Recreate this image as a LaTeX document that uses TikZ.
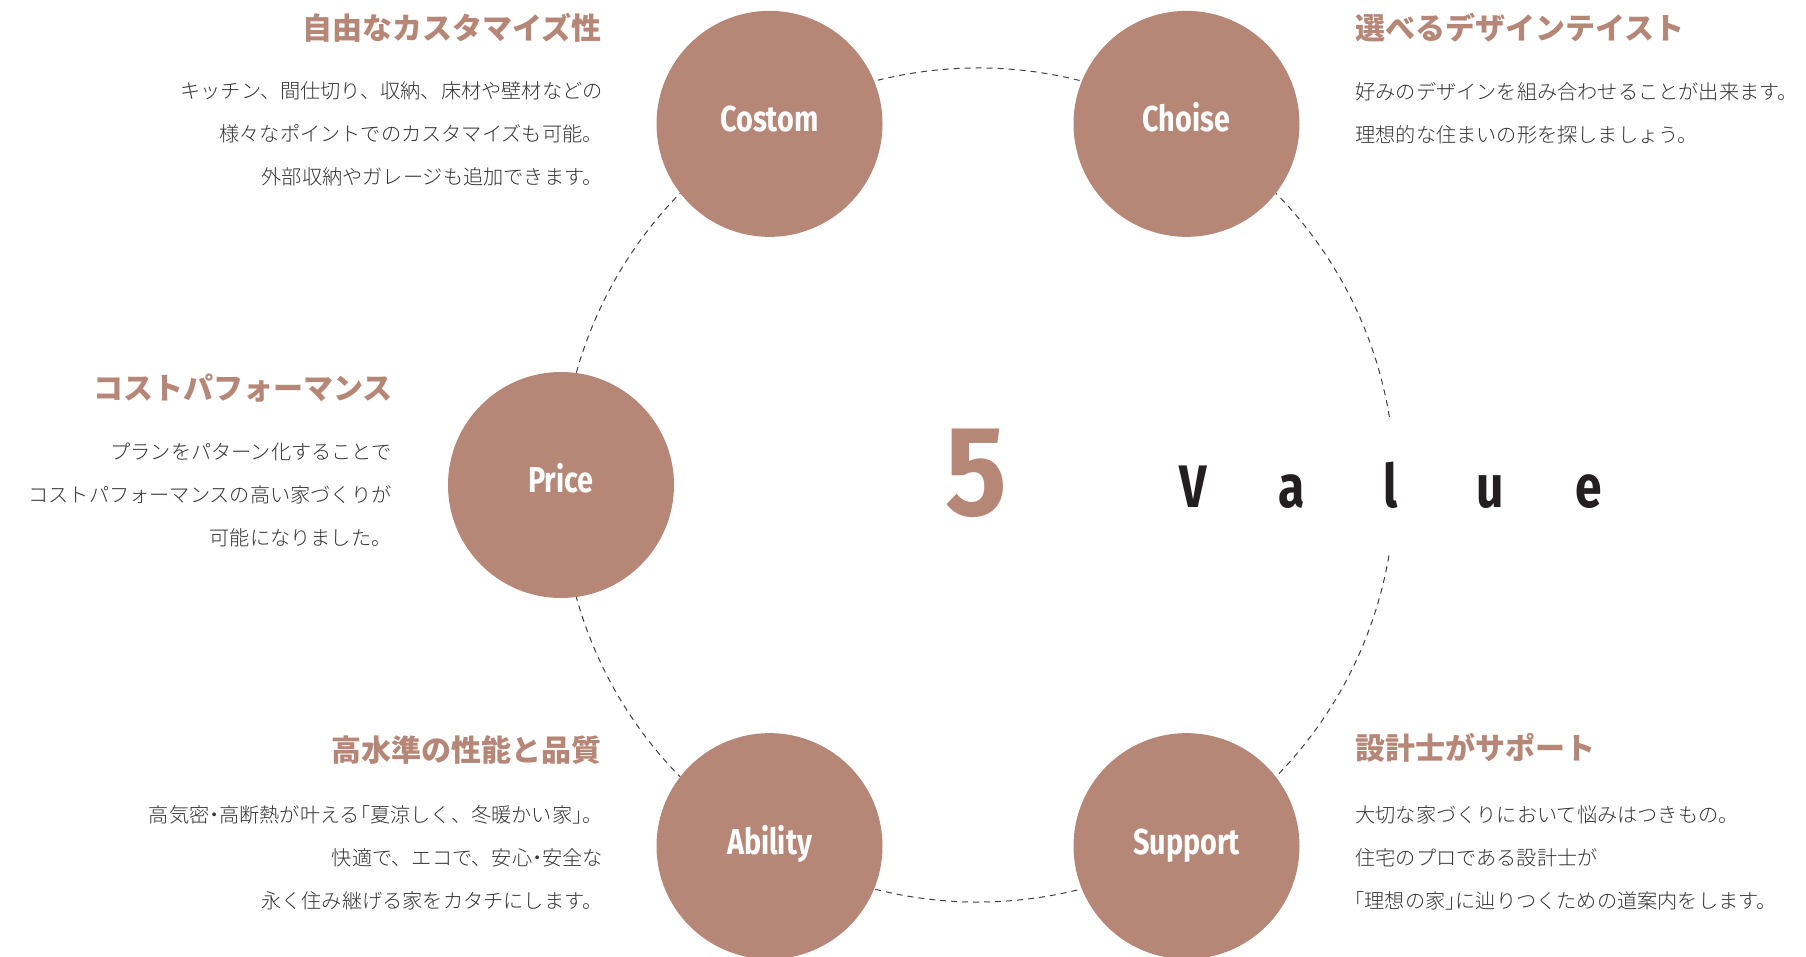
\documentclass[tikz,border=0pt]{standalone}
\usepackage{fontspec}
\usepackage{tikz}
\newfontfamily\jphead{Noto Sans CJK JP}[UprightFont=* Black]
\newfontfamily\jpbody{Noto Sans CJK JP}[UprightFont=* Light]
\newfontfamily\condfont{Fira Sans}[UprightFont=* Bold, FakeStretch=0.8]
\newfontfamily\numfont{Fira Sans}[UprightFont=* Bold, FakeStretch=0.9]
\definecolor{rose}{HTML}{B68676}
\definecolor{ink}{HTML}{333333}
\definecolor{valueink}{HTML}{231F20}
\newcommand{\hdot}{{\kern-2.6pt}・{\kern-2.6pt}}

\begin{document}
\begin{tikzpicture}[x=0.5pt,y=-0.5pt,
  ring/.style={draw=black!75,line width=0.5pt,dash pattern=on 3pt off 2.5pt},
  valuecircle/.style={circle,fill=rose,minimum size=113pt,inner sep=0pt,text=white,
    text height=10pt,text depth=2pt,font=\condfont\fontsize{18}{18}\selectfont},
  heading/.style={inner sep=0pt,text=rose,font=\jphead\fontsize{15}{15}\selectfont},
  bodytext/.style={inner sep=0pt,text=ink,font=\jpbody\fontsize{10.1}{21.5}\selectfont},
  valuech/.style={inner sep=0pt,anchor=base,text=valueink,font=\condfont\fontsize{30}{30}\selectfont}]
\useasboundingbox (0,0) rectangle (1806,957);

\coordinate (ctr) at (978,485);
\draw[ring] ([shift={(9.4:208.5pt)}]ctr) arc[start angle=9.4,end angle=350.6,radius=208.5pt];

\foreach \ang/\name/\lab in {120/costom/Costom,60/choise/Choise,180/price/Price,240/ability/Ability,300/support/Support}
  \node[valuecircle] (\name) at ([shift={(\ang:208.5pt)}]ctr) {\lab};

\node[inner sep=0pt,anchor=base,text=rose,font=\numfont\fontsize{64}{64}\selectfont] (five) at (976,516) {5};
\foreach \ch [count=\i from 0] in {V,a,l,u,e}
  \node[valuech] (v\i) at (1193+99*\i,507) {\ch};

% left column
\node[heading,anchor=east] (costomhead) at (602,28) {自由なカスタマイズ性};
\node[bodytext,anchor=east,align=right] (costomtext) at (603,134) {キッチン、間仕切り、収納、床材や壁材などの\\様々なポイントでのカスタマイズも可能。\\外部収納やガレージも追加できます。};

\node[heading,anchor=east] (pricehead) at (393,388) {コストパフォーマンス};
\node[bodytext,anchor=east,align=right] (pricetext) at (392,495) {プランをパターン化することで\\コストパフォーマンスの高い家づくりが\\可能になりました。};

\node[heading,anchor=east] (abilityhead) at (602,750) {高水準の性能と品質};
\node[bodytext,anchor=east,align=right] (abilitytext) at (603,858) {高気密\hdot 高断熱が叶える{\kern-5pt}「夏涼しく、冬暖かい家」{\kern-5pt}。\\快適で、エコで、安心\hdot 安全な\\永く住み継げる家をカタチにします。};

% right column
\node[heading,anchor=west] (choisehead) at (1355,28) {選べるデザインテイスト};
\node[bodytext,anchor=west,align=left] (choisetext) at (1355,113) {好みのデザインを組み合わせることが出来ます。\\理想的な住まいの形を探しましょう。};

\node[heading,anchor=west] (supporthead) at (1355,748) {設計士がサポート};
\node[bodytext,anchor=west,align=left] (supporttext) at (1355,858) {大切な家づくりにおいて悩みはつきもの。\\住宅のプロである設計士が\\\hspace*{-5.5pt}「理想の家」{\kern-5pt}に辿りつくための道案内をします。};

\end{tikzpicture}
\end{document}
